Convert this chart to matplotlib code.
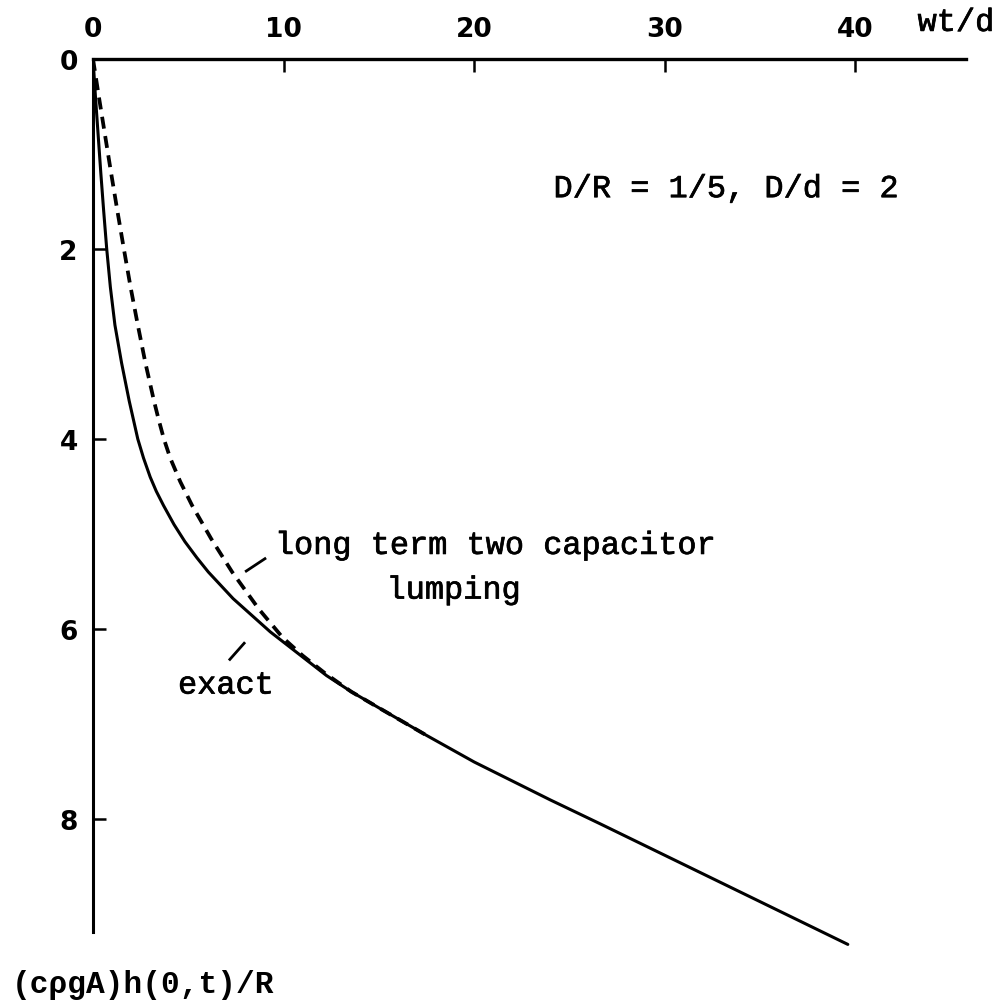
import matplotlib.pyplot as plt
import matplotlib.patheffects as pe
import numpy as np

# exact solution, wt/d vs (c rho g A) h(0,t)/R
exact_x = [0, 0.13, 0.27, 0.41, 0.56, 0.72, 0.91, 1.15, 1.5, 1.9, 2.35, 2.65,
           3.0, 3.32, 3.7, 4.25, 4.82, 5.45, 6.05, 7.35, 9.3, 12.25, 13.55, 15,
           17.5, 20, 24, 26.6, 33.05, 39.6]
exact_y = [0, 0.4, 0.8, 1.2, 1.6, 2.0, 2.4, 2.8, 3.2, 3.6, 4.0, 4.2,
           4.4, 4.55, 4.7, 4.9, 5.08, 5.25, 5.4, 5.68, 6.03, 6.49, 6.66, 6.83,
           7.12, 7.40, 7.80, 8.05, 8.68, 9.32]

# long term two capacitor lumping
lump_x = [0, 0.31, 0.63, 0.95, 1.28, 1.62, 1.97, 2.35, 2.75, 3.2, 3.45, 3.72,
          4.05, 4.58, 5.2, 6.2, 7.3, 8.7, 9.95, 11.0, 12.2, 13.55, 15, 17.5]
lump_y = [0, 0.4, 0.8, 1.2, 1.6, 2.0, 2.4, 2.8, 3.2, 3.6, 3.8, 4.0,
          4.2, 4.45, 4.7, 5.05, 5.4, 5.79, 6.09, 6.28, 6.47, 6.66, 6.83, 7.12]

xticks = [0, 10, 20, 30, 40]
yticks = [0, 2, 4, 6, 8]

mono = 'Liberation Mono'
heavy = [pe.withStroke(linewidth=0.5, foreground='black')]

fig = plt.figure(figsize=(9.98, 10.04), dpi=100)
ax = fig.add_axes([93 / 998, 1 - 953 / 1004, 873 / 998, 893 / 1004])
ax.set_xlim(0, 45.8)
ax.set_ylim(9.4, 0)

ax.plot(exact_x, exact_y, color='black', lw=2.2, solid_capstyle='round',
        solid_joinstyle='round')
ax.plot(lump_x, lump_y, color='black', lw=2.7, dashes=(3.2, 2.0),
        dash_joinstyle='round')

for s in ['right', 'bottom']:
    ax.spines[s].set_visible(False)
ax.spines['top'].set_linewidth(2.4)
ax.spines['left'].set_linewidth(2.2)
ax.spines['left'].set_bounds(0, 9.19)

ax.xaxis.tick_top()
ax.set_xticks(xticks)
ax.set_yticks(yticks)
ax.tick_params(axis='both', direction='in', length=9, width=1.8, pad=12,
               labelsize=19)
ax.tick_params(axis='y', pad=11)
for lab in ax.get_xticklabels() + ax.get_yticklabels():
    lab.set_fontweight('bold')
    lab.set_family('DejaVu Sans')

ax.text(43.26, -0.38, 'wt/d', family=mono, fontsize=23, va='center',
        ha='left', clip_on=False, path_effects=heavy)
ax.text(33.25, 1.37, 'D/R = 1/5, D/d = 2', family=mono, fontsize=23,
        va='center', ha='center', path_effects=heavy)
ax.text(9.54, 5.21, 'long term two capacitor', family=mono, fontsize=23,
        va='baseline', ha='left', path_effects=heavy)
ax.text(15.4, 5.68, 'lumping', family=mono, fontsize=23, va='baseline',
        ha='left', path_effects=heavy)
ax.text(4.46, 6.68, 'exact', family=mono, fontsize=23, va='baseline',
        ha='left', path_effects=heavy)
ax.text(-4.26, 9.82, '(cρgA)h(0,t)/R', family=mono, fontsize=22.5,
        fontweight='bold', va='baseline', ha='left', clip_on=False)

# leader marks for the labels
ax.plot([8.04, 9.02], [5.39, 5.26], color='black', lw=2)
ax.plot([7.18, 7.93], [6.32, 6.15], color='black', lw=2)

fig.savefig('out.png', dpi=100)
